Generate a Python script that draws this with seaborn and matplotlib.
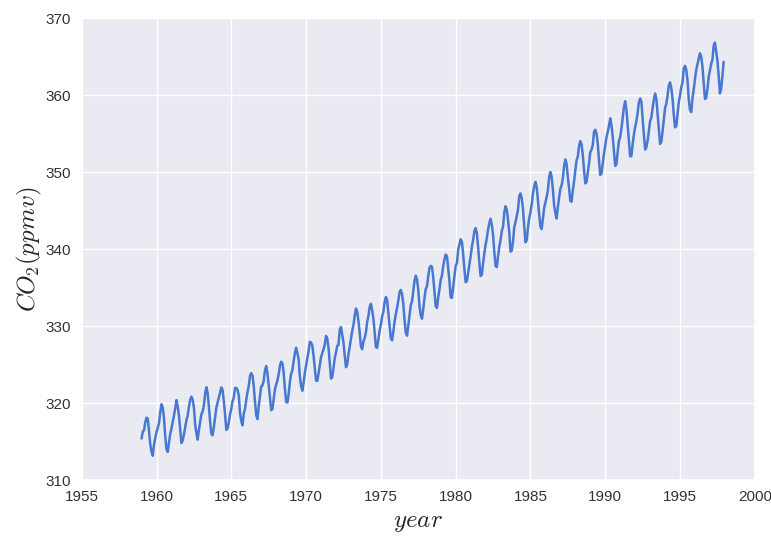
import numpy as np
import pandas as pd
import matplotlib
matplotlib.use("Agg")
import matplotlib.pyplot as plt
import seaborn as sns

# Monthly atmospheric CO2 at Mauna Loa (ppmv), January 1959 - December 1997
co2_1959_1968 = [
    315.42, 316.31, 316.50, 317.56, 318.13, 318.00, 316.39, 314.65, 313.68, 313.18, 314.66, 315.43,
    316.27, 316.81, 317.42, 318.87, 319.87, 319.43, 318.01, 315.74, 314.00, 313.68, 314.84, 316.03,
    316.73, 317.54, 318.38, 319.31, 320.42, 319.61, 318.42, 316.63, 314.83, 315.16, 315.94, 316.85,
    317.78, 318.40, 319.53, 320.42, 320.85, 320.45, 319.45, 317.25, 316.11, 315.27, 316.53, 317.53,
    318.58, 318.92, 319.70, 321.22, 322.08, 321.31, 319.58, 317.61, 316.05, 315.83, 316.91, 318.20,
    319.41, 320.07, 320.74, 321.40, 322.06, 321.73, 320.27, 318.54, 316.54, 316.71, 317.53, 318.55,
    319.27, 320.28, 320.73, 321.97, 322.00, 321.71, 321.05, 318.71, 317.66, 317.14, 318.70, 319.25,
    320.46, 321.43, 322.23, 323.54, 323.91, 323.59, 322.24, 320.20, 318.48, 317.94, 319.63, 320.87,
    322.17, 322.34, 322.88, 324.25, 324.83, 323.93, 322.38, 320.76, 319.10, 319.24, 320.56, 321.80,
    322.40, 322.99, 323.73, 324.86, 325.40, 325.20, 323.98, 321.95, 320.18, 320.09, 321.16, 322.74,
]
co2_1969_1978 = [
    323.83, 324.26, 325.47, 326.50, 327.21, 326.54, 325.72, 323.50, 322.22, 321.62, 322.69, 323.95,
    324.89, 325.82, 326.77, 327.97, 327.91, 327.50, 326.18, 324.53, 322.93, 322.90, 323.85, 324.96,
    326.01, 326.51, 327.01, 327.62, 328.76, 328.40, 327.20, 325.27, 323.20, 323.40, 324.63, 325.85,
    326.60, 327.47, 327.58, 329.56, 329.90, 328.92, 327.88, 326.16, 324.68, 325.04, 326.34, 327.39,
    328.37, 329.40, 330.14, 331.33, 332.31, 331.90, 330.70, 329.15, 327.35, 327.02, 327.99, 328.48,
    329.18, 330.55, 331.32, 332.48, 332.92, 332.08, 331.01, 329.23, 327.27, 327.21, 328.29, 329.41,
    330.23, 331.25, 331.87, 333.14, 333.80, 333.43, 331.73, 329.90, 328.40, 328.17, 329.32, 330.59,
    331.58, 332.39, 333.33, 334.41, 334.71, 334.17, 332.89, 330.77, 329.14, 328.78, 330.14, 331.52,
    332.75, 333.24, 334.53, 335.90, 336.57, 336.10, 334.76, 332.59, 331.42, 330.98, 332.24, 333.68,
    334.80, 335.22, 336.47, 337.59, 337.84, 337.72, 336.37, 334.51, 332.60, 332.38, 333.75, 334.78,
]
co2_1979_1988 = [
    336.05, 336.59, 337.79, 338.71, 339.30, 339.12, 337.56, 335.92, 333.75, 333.70, 335.12, 336.56,
    337.84, 338.19, 339.91, 340.60, 341.29, 341.00, 339.39, 337.43, 335.72, 335.84, 336.93, 338.04,
    339.06, 340.30, 341.21, 342.33, 342.74, 342.08, 340.32, 338.26, 336.52, 336.68, 338.19, 339.44,
    340.57, 341.44, 342.53, 343.39, 343.96, 343.18, 341.88, 339.65, 337.81, 337.69, 339.09, 340.32,
    341.20, 342.35, 342.93, 344.77, 345.58, 345.14, 343.81, 342.21, 339.69, 339.82, 340.98, 342.82,
    343.52, 344.33, 345.11, 346.88, 347.25, 346.62, 345.22, 343.11, 340.90, 341.18, 342.80, 344.04,
    344.79, 345.82, 347.25, 348.17, 348.74, 348.07, 346.38, 344.51, 342.92, 342.62, 344.06, 345.38,
    346.11, 346.78, 347.68, 349.37, 350.03, 349.37, 347.76, 345.73, 344.68, 343.99, 345.48, 346.72,
    347.84, 348.29, 349.23, 350.80, 351.66, 351.07, 349.33, 347.92, 346.27, 346.18, 347.64, 348.78,
    350.25, 351.54, 352.05, 353.41, 354.04, 353.62, 352.22, 350.27, 348.55, 348.72, 349.91, 351.18,
]
co2_1989_1997 = [
    352.60, 352.92, 353.53, 355.26, 355.52, 354.97, 353.75, 351.52, 349.64, 349.83, 351.14, 352.37,
    353.50, 354.55, 355.23, 356.04, 357.00, 356.07, 354.67, 352.76, 350.82, 351.04, 352.69, 354.07,
    354.59, 355.63, 357.03, 358.48, 359.22, 358.12, 356.06, 353.92, 352.05, 352.11, 353.64, 354.89,
    355.88, 356.63, 357.72, 359.07, 359.58, 359.17, 356.94, 354.92, 352.94, 353.23, 354.09, 355.33,
    356.63, 357.10, 358.32, 359.41, 360.23, 359.55, 357.53, 355.48, 353.67, 353.95, 355.30, 356.78,
    358.34, 358.89, 359.95, 361.25, 361.67, 360.94, 359.55, 357.49, 355.84, 356.00, 357.59, 359.05,
    359.98, 361.03, 361.66, 363.48, 363.82, 363.30, 361.94, 359.50, 358.11, 357.80, 359.61, 360.74,
    362.09, 363.29, 364.06, 364.76, 365.45, 365.01, 363.70, 361.54, 359.51, 359.65, 360.80, 362.38,
    363.23, 364.06, 364.61, 366.40, 366.84, 365.68, 364.52, 362.57, 360.24, 360.83, 362.49, 364.34,
]

first_year = 1959
x_ticks = [1955, 1960, 1965, 1970, 1975, 1980, 1985, 1990, 1995, 2000]
y_ticks = [310, 320, 330, 340, 350, 360, 370]

co2 = co2_1959_1968 + co2_1969_1978 + co2_1979_1988 + co2_1989_1997
months = np.arange(len(co2))
df = pd.DataFrame({"year": first_year + months / 12.0, "co2": co2})

sns.set_theme(style="darkgrid", rc={"axes.facecolor": "#EAEAF2"})
plt.rcParams["font.family"] = ["Liberation Sans", "DejaVu Sans"]
plt.rcParams["mathtext.fontset"] = "cm"

fig = plt.figure(figsize=(7.71, 5.36), dpi=100)
ax = fig.add_axes([0.106, 0.104, 0.873, 0.862])
sns.lineplot(data=df, x="year", y="co2", ax=ax, color="#4878CF", linewidth=1.8)

ax.set_xlim(x_ticks[0], x_ticks[-1])
ax.set_ylim(y_ticks[0], y_ticks[-1])
ax.set_xticks(x_ticks)
ax.set_yticks(y_ticks)
ax.tick_params(axis="x", labelsize=11, colors="#333333", pad=1)
ax.tick_params(axis="y", labelsize=11, colors="#333333", pad=1.5)
ax.set_xlabel(r"$year$", fontsize=18, labelpad=4)
ax.set_ylabel(r"$CO_2 (ppmv)$", fontsize=18, labelpad=1)

fig.savefig("out.png", dpi=100)
